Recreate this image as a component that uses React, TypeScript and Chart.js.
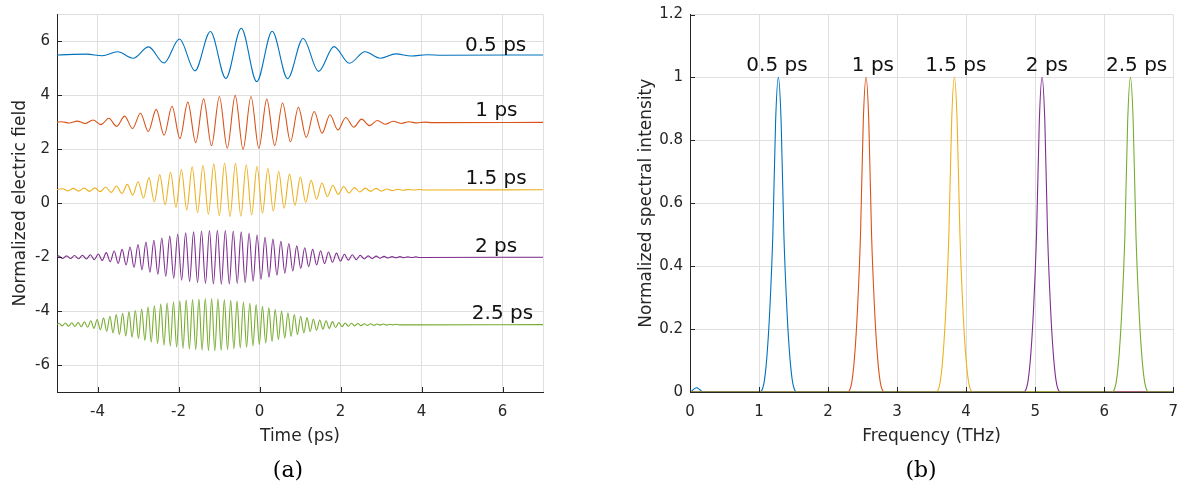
import React, { useEffect, useRef } from 'react';
import { Chart, registerables } from 'chart.js';

Chart.register(...registerables);

// ---------------- Panel (a): normalized electric field vs time ----------------
const pulseNames = ['0.5 ps', '1 ps', '1.5 ps', '2 ps', '2.5 ps'];
const fieldOffsets = [5.5, 3, 0.5, -2, -4.5];
// time of the first crest of each trace and the oscillation period (ps)
const firstCrestTimes = [-4.265, -4.89, -4.866, -4.96, -4.95];
const cyclePeriods = [0.763, 0.39, 0.267, 0.196, 0.157];
// crest amplitude of each successive oscillation cycle
const crestAmps05 = [0.03, 0.12, 0.3, 0.59, 0.87, 0.99, 0.88, 0.61, 0.31, 0.12, 0.04, 0.01];
const crestAmps10 = [0.025, 0.045, 0.085, 0.15, 0.23, 0.34, 0.48, 0.6, 0.75, 0.87, 0.96, 1.0, 0.96, 0.86, 0.72, 0.56, 0.4, 0.28, 0.18, 0.12, 0.07, 0.04, 0.02, 0.01];
const crestAmps15 = [0.04, 0.05, 0.06, 0.07, 0.1, 0.14, 0.2, 0.3, 0.45, 0.56, 0.65, 0.75, 0.85, 0.91, 0.96, 0.99, 0.98, 0.93, 0.87, 0.79, 0.68, 0.58, 0.47, 0.35, 0.25, 0.17, 0.12, 0.08, 0.06, 0.05, 0.03, 0.02, 0.01, 0.01];
const crestAmps20 = [0.05, 0.05, 0.06, 0.07, 0.09, 0.12, 0.17, 0.23, 0.29, 0.38, 0.47, 0.56, 0.63, 0.71, 0.78, 0.85, 0.9, 0.94, 0.97, 0.99, 1.0, 0.99, 0.97, 0.94, 0.89, 0.82, 0.74, 0.67, 0.59, 0.51, 0.42, 0.35, 0.29, 0.24, 0.19, 0.15, 0.11, 0.09, 0.07, 0.05, 0.04, 0.03, 0.02, 0.02, 0.01, 0.01];
const crestAmps25 = [0.05, 0.06, 0.07, 0.08, 0.1, 0.14, 0.19, 0.25, 0.31, 0.37, 0.42, 0.47, 0.52, 0.58, 0.65, 0.7, 0.76, 0.8, 0.84, 0.88, 0.91, 0.93, 0.95, 0.97, 0.97, 0.96, 0.93, 0.9, 0.87, 0.84, 0.79, 0.74, 0.68, 0.62, 0.56, 0.5, 0.44, 0.37, 0.31, 0.26, 0.21, 0.17, 0.14, 0.11, 0.08, 0.06, 0.05, 0.04, 0.03, 0.03, 0.02, 0.02, 0.01, 0.01];
const crestAmpLists = [crestAmps05, crestAmps10, crestAmps15, crestAmps20, crestAmps25];
const timeRange = [-5, 7];
const fieldRange = [-7, 7];
const timeTicks = [-4, -2, 0, 2, 4, 6];
const fieldTicks = [-6, -4, -2, 0, 2, 4, 6];
// text tags next to each trace (time, field)
const fieldTagTimes = [5.83, 5.85, 5.84, 5.84, 6.0];
const fieldTagValues = [5.66, 3.22, 0.73, -1.79, -4.31];

// ---------------- Panel (b): normalized spectral intensity ----------------
const peakCenters = [1.28, 2.55, 3.83, 5.1, 6.38];
const peakOffsets = [-0.28, -0.24, -0.2, -0.16, -0.12, -0.08, -0.04, 0, 0.04, 0.08, 0.12, 0.16, 0.2, 0.24, 0.28];
const peakShape = [0, 0.005, 0.04, 0.13, 0.28, 0.5, 0.86, 1, 0.86, 0.5, 0.28, 0.13, 0.04, 0.005, 0];
const lowBumpFreqs = [0.02, 0.06, 0.1, 0.14, 0.19];
const lowBumpValues = [0.002, 0.01, 0.0135, 0.008, 0];
const freqRange = [0, 7];
const intensityRange = [0, 1.2];
const freqTicks = [0, 1, 2, 3, 4, 5, 6, 7];
const intensityTicks = [0, 0.2, 0.4, 0.6, 0.8, 1, 1.2];
const specTagFreqs = [1.26, 2.65, 3.85, 5.17, 6.47];
const specTagValue = 1.02;

// ---------------- styling ----------------
const seriesColors = ['#0072BD', '#D95319', '#EDB120', '#7E2F8E', '#77AC30'];
const AXIS_COLOR = '#262626';
const GRID_COLOR = '#dfdfdf';
const SANS = '"DejaVu Sans", "Liberation Sans", Arial, sans-serif';
const SERIF = '"DejaVu Serif", "Liberation Serif", serif';

function wavePoints(offset: number, t0: number, period: number, amps: number[]) {
  const pts: { x: number; y: number }[] = [{ x: timeRange[0], y: offset }];
  amps.forEach((a, k) => {
    pts.push({ x: t0 + k * period, y: offset + a });
    pts.push({ x: t0 + k * period + period / 2, y: offset - a });
  });
  pts.push({ x: timeRange[1], y: offset });
  return pts;
}

function spectrumPoints(i: number) {
  const pts: { x: number; y: number }[] = [{ x: freqRange[0], y: 0 }];
  if (i === 0) {
    lowBumpFreqs.forEach((f, k) => pts.push({ x: f, y: lowBumpValues[k] }));
  }
  peakOffsets.forEach((o, k) => pts.push({ x: peakCenters[i] + o, y: peakShape[k] }));
  pts.push({ x: freqRange[1], y: 0 });
  return pts;
}

const innerTickPlugin = {
  id: 'innerTicks',
  afterDraw(chart: any) {
    const { ctx, chartArea: a, scales } = chart;
    const x = scales.x;
    const y = scales.y;
    ctx.save();
    ctx.strokeStyle = AXIS_COLOR;
    ctx.lineWidth = 1;
    ctx.beginPath();
    x.ticks.forEach((t: any, i: number) => {
      const lbl = x.getLabelForValue ? x._labelItems : null;
      if (t.label === '' || t.label === undefined) return;
      const px = Math.round(x.getPixelForValue(t.value)) + 0.5;
      ctx.moveTo(px, a.bottom);
      ctx.lineTo(px, a.bottom - 5);
    });
    y.ticks.forEach((t: any) => {
      if (t.label === '' || t.label === undefined) return;
      const py = Math.round(y.getPixelForValue(t.value)) + 0.5;
      ctx.moveTo(a.left, py);
      ctx.lineTo(a.left + 5, py);
    });
    ctx.stroke();
    ctx.restore();
  },
};

function tagPlugin(tags: { text: string; x: number; y: number }[]) {
  return {
    id: 'seriesTags',
    afterDatasetsDraw(chart: any) {
      const { ctx, scales } = chart;
      ctx.save();
      ctx.font = '20px ' + SANS;
      ctx.fillStyle = '#111111';
      ctx.textAlign = 'center';
      ctx.textBaseline = 'alphabetic';
      tags.forEach((t) => {
        ctx.fillText(t.text, scales.x.getPixelForValue(t.x), scales.y.getPixelForValue(t.y));
      });
      ctx.restore();
    },
  };
}

function labelFor(list: number[], v: number) {
  const hit = list.find((t) => Math.abs(t - v) < 1e-6);
  return hit === undefined ? '' : String(hit);
}

function axis(opts: any) {
  const { min, max, ticks, size, titleText, titlePad, tickPad, horizontal } = opts;
  return {
    type: 'linear',
    min,
    max,
    afterBuildTicks: (s: any) => {
      const vals = [min, ...ticks, max].filter((v, i, arr) => arr.findIndex((w) => Math.abs(w - v) < 1e-9) === i);
      s.ticks = vals.map((v) => ({ value: v }));
    },
    afterFit: (s: any) => {
      if (horizontal) s.height = size;
      else s.width = size;
    },
    ticks: {
      autoSkip: false,
      maxRotation: 0,
      padding: tickPad,
      color: AXIS_COLOR,
      font: { family: SANS, size: 15, lineHeight: 1 },
      callback: (v: number) => labelFor(ticks, v),
    },
    grid: { color: GRID_COLOR, lineWidth: 1, drawTicks: false },
    border: { display: true, color: AXIS_COLOR, width: 1 },
    title: {
      display: true,
      text: titleText,
      color: AXIS_COLOR,
      font: { family: SANS, size: 17, lineHeight: 1.2 },
      padding: titlePad,
    },
  };
}

export default function App() {
  const leftRef = useRef<HTMLCanvasElement | null>(null);
  const rightRef = useRef<HTMLCanvasElement | null>(null);

  useEffect(() => {
    const common = {
      responsive: false,
      animation: false,
      events: [],
      elements: { point: { radius: 0 }, line: { cubicInterpolationMode: 'monotone', borderWidth: 1.1 } },
      plugins: { legend: { display: false }, tooltip: { enabled: false } },
    };

    const leftChart = new Chart(leftRef.current as HTMLCanvasElement, {
      type: 'line',
      data: {
        datasets: pulseNames.map((name, i) => ({
          label: name,
          data: wavePoints(fieldOffsets[i], firstCrestTimes[i], cyclePeriods[i], crestAmpLists[i]),
          borderColor: seriesColors[i],
          backgroundColor: seriesColors[i],
          fill: false,
        })),
      },
      options: {
        ...common,
        layout: { padding: { left: 0, right: 17, top: 9, bottom: 0 } },
        scales: {
          x: axis({ min: timeRange[0], max: timeRange[1], ticks: timeTicks, size: 103, horizontal: true, titleText: 'Time (ps)', titlePad: { top: 0, bottom: 48 }, tickPad: 13 }),
          y: axis({ min: fieldRange[0], max: fieldRange[1], ticks: fieldTicks, size: 57, horizontal: false, titleText: 'Normalized electric field', titlePad: { top: 10, bottom: 0 }, tickPad: 7 }),
        },
      } as any,
      plugins: [innerTickPlugin, tagPlugin(pulseNames.map((n, i) => ({ text: n, x: fieldTagTimes[i], y: fieldTagValues[i] })))],
    } as any);

    const rightChart = new Chart(rightRef.current as HTMLCanvasElement, {
      type: 'line',
      data: {
        datasets: pulseNames.map((name, i) => ({
          label: name,
          data: spectrumPoints(i),
          borderColor: seriesColors[i],
          backgroundColor: seriesColors[i],
          fill: false,
          order: pulseNames.length - 1 - i,
        })),
      },
      options: {
        ...common,
        layout: { padding: { left: 0, right: 15, top: 8, bottom: 0 } },
        scales: {
          x: axis({ min: freqRange[0], max: freqRange[1], ticks: freqTicks, size: 103, horizontal: true, titleText: 'Frequency (THz)', titlePad: { top: 0, bottom: 48 }, tickPad: 13 }),
          y: axis({ min: intensityRange[0], max: intensityRange[1], ticks: intensityTicks, size: 110, horizontal: false, titleText: 'Normalized spectral intensity', titlePad: { top: 56, bottom: 0 }, tickPad: 7 }),
        },
      } as any,
      plugins: [innerTickPlugin, tagPlugin(pulseNames.map((n, i) => ({ text: n, x: specTagFreqs[i], y: specTagValue })))],
    } as any);

    return () => {
      leftChart.destroy();
      rightChart.destroy();
    };
  }, []);

  const captionStyle: React.CSSProperties = {
    position: 'absolute',
    top: 457,
    width: 80,
    textAlign: 'center',
    fontFamily: SERIF,
    fontSize: 22,
    lineHeight: '26px',
    color: '#000',
  };

  return (
    <div style={{ position: 'absolute', left: 0, top: 0, width: 1191, height: 495, background: '#ffffff', overflow: 'hidden' }}>
      <canvas ref={leftRef} width={560} height={495} style={{ position: 'absolute', left: 0, top: 0 }} />
      <canvas ref={rightRef} width={611} height={495} style={{ position: 'absolute', left: 580, top: 0 }} />
      <div style={{ ...captionStyle, left: 288 - 40 }}>(a)</div>
      <div style={{ ...captionStyle, left: 921 - 40 }}>(b)</div>
    </div>
  );
}
